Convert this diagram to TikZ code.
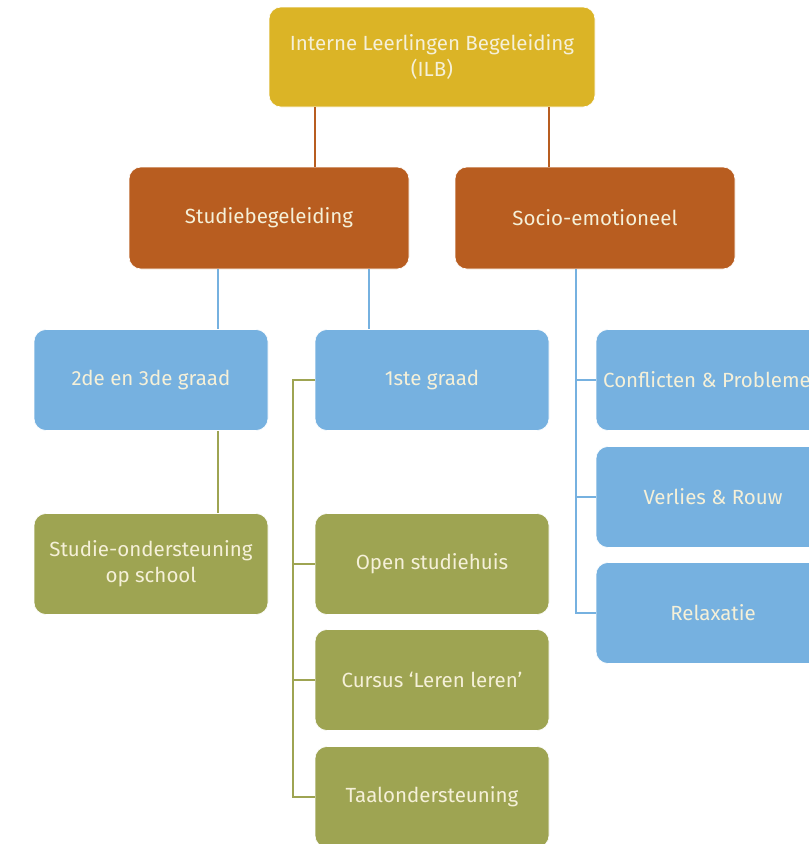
\documentclass[tikz,border=0pt]{standalone}
\usepackage{fontspec}
\setmainfont{Fira Sans}
\definecolor{ilbgold}{HTML}{DBB426}
\definecolor{ilbbrown}{HTML}{B85D20}
\definecolor{ilbblue}{HTML}{76B1E0}
\definecolor{ilbolive}{HTML}{9EA452}
\definecolor{ilbtext}{HTML}{F5F0D8}
\tikzset{
  box/.style={rectangle, rounded corners=12pt, draw=white, line width=0.6pt,
    minimum width=234pt, minimum height=101pt, align=center, text=ilbtext,
    font=\fontsize{20.5}{26}\selectfont},
  link/.style={line width=2pt}
}
\begin{document}
\begin{tikzpicture}[x=1pt,y=-1pt]
	    \useasboundingbox (0,0) rectangle (809,844);
	    \clip (0,0) rectangle (809,844);
	    \node[box,fill=ilbgold,minimum width=326pt,minimum height=100pt] (ilb) at (432,57) {Interne Leerlingen Begeleiding\\(ILB)};
	    \node[box,fill=ilbbrown,minimum width=280pt,minimum height=102pt] (studie) at (269,218) {Studiebegeleiding};
	    \node[box,fill=ilbbrown,minimum width=280pt,minimum height=102pt] (socio) at (595,218) {Socio-emotioneel};
	    \node[box,fill=ilbblue] (graad23) at (151,380) {2de en 3de graad};
	    \node[box,fill=ilbblue] (graad1) at (432,380) {1ste graad};
	    \node[box,fill=ilbblue] (conflict) at (713,380) {Conflicten \& Problemen};
	    \node[box,fill=ilbblue] (verlies) at (713,497) {Verlies \& Rouw};
	    \node[box,fill=ilbblue] (relax) at (713,613) {Relaxatie};
	    \node[box,fill=ilbolive] (onderst) at (151,564) {Studie-ondersteuning\\op school};
	    \node[box,fill=ilbolive] (openhuis) at (432,564) {Open studiehuis};
	    \node[box,fill=ilbolive] (cursus) at (432,680) {Cursus ‘Leren leren’};
	    \node[box,fill=ilbolive] (taal) at (432,797) {Taalondersteuning};
	    
	    \draw[link,ilbbrown] (ilb.south -| graad1.west) -- (studie.north -| graad1.west);
	    \draw[link,ilbbrown] (ilb.south -| graad1.east) -- (socio.north -| graad1.east);
	    \draw[link,ilbblue] (studie.south -| 218,0) -- (graad23.north -| 218,0);
	    \draw[link,ilbblue] (studie.south -| 369,0) -- (graad1.north -| 369,0);
	    \draw[link,ilbolive] (graad23.south -| 218,0) -- (onderst.north -| 218,0);
	    
	    \draw[link,ilbolive] (graad1.west) -| (293,0 |- taal.west) -- (taal.west);
	    \draw[link,ilbolive] (293,0 |- openhuis.west) -- (openhuis.west);
	    \draw[link,ilbolive] (293,0 |- cursus.west) -- (cursus.west);
	    
	    \draw[link,ilbblue] (socio.south -| 576,0) |- (relax.west);
	    \draw[link,ilbblue] (576,0 |- conflict.west) -- (conflict.west);
	    \draw[link,ilbblue] (576,0 |- verlies.west) -- (verlies.west);
	\end{tikzpicture}
\end{document}
